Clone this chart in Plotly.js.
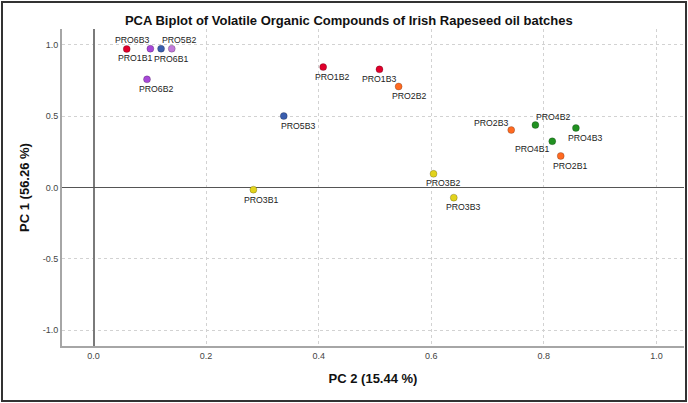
<!DOCTYPE html>
<html>
<head>
<meta charset="utf-8">
<script src="https://cdn.plot.ly/plotly-3.0.1.min.js"></script>
<style>
  body { margin: 0; background: #fff; }
  #chart { width: 688px; height: 403px; }
  #frame { position: absolute; left: 1px; top: 1px; width: 682px; height: 397px; border: 2px solid #333; pointer-events: none; }
</style>
</head>
<body>
<div id="chart"></div>
<div id="frame"></div>
<script>
// sample labels and PCA scores
const samples = ['PRO1B1', 'PRO6B3', 'PRO5B2', 'PRO6B1', 'PRO6B2', 'PRO1B2', 'PRO5B3', 'PRO1B3',
  'PRO2B2', 'PRO2B3', 'PRO4B2', 'PRO4B3', 'PRO4B1', 'PRO2B1', 'PRO3B2', 'PRO3B3', 'PRO3B1'];
const pc2 = [0.059, 0.101, 0.120, 0.139, 0.095, 0.408, 0.338, 0.508,
  0.542, 0.742, 0.785, 0.857, 0.815, 0.830, 0.604, 0.640, 0.284];
const pc1 = [0.971, 0.973, 0.973, 0.973, 0.758, 0.844, 0.501, 0.828,
  0.708, 0.403, 0.438, 0.417, 0.324, 0.221, 0.096, -0.071, -0.015];

const colors = {
  PRO1: '#e0002b', PRO2: '#ff6a21', PRO3: '#e2d31c',
  PRO4: '#219121', PRO5: '#3a5eae', PRO6: '#a748d8'
};
const special = { PRO6B1: '#c27ad9' };
// label offsets in px (dx right, dy down)
const labelShift = {
  PRO1B1: [8, 9], PRO6B3: [-18, -9], PRO5B2: [18, -9], PRO6B1: [-1, 10],
  PRO6B2: [9, 10], PRO1B2: [9, 10], PRO5B3: [14, 10], PRO1B3: [0, 10],
  PRO2B2: [10, 10], PRO2B3: [-20, -7], PRO4B2: [18, -8], PRO4B3: [9, 10],
  PRO4B1: [-20, 8], PRO2B1: [9, 10], PRO3B2: [9, 9], PRO3B3: [9, 9], PRO3B1: [8, 10]
};

const pointColors = samples.map(s => special[s] || colors[s.slice(0, 4)]);

const trace = {
  x: pc2, y: pc1, text: samples,
  mode: 'markers', type: 'scatter',
  marker: { size: 7, color: pointColors, line: { width: 0.6, color: 'rgba(0,0,0,0.35)' } },
  hoverinfo: 'text', showlegend: false
};

const annotations = samples.map((s, i) => ({
  x: pc2[i], y: pc1[i], text: s, showarrow: false,
  xshift: labelShift[s][0], yshift: -labelShift[s][1],
  font: { family: 'Arial, Liberation Sans, sans-serif', size: 8.7, color: '#222' }
}));

const axisFont = { family: 'Arial, Liberation Sans, sans-serif', size: 9, color: '#444' };

const layout = {
  width: 688, height: 403,
  margin: { l: 62, r: 4, t: 29, b: 57 },
  paper_bgcolor: '#fff', plot_bgcolor: '#fff',
  font: { family: 'Arial, Liberation Sans, sans-serif' },
  title: {
    text: '<b>PCA Biplot of Volatile Organic Compounds of Irish Rapeseed oil batches</b>',
    font: { size: 13, color: '#111' },
    xref: 'container', x: 0.507, xanchor: 'center',
    yref: 'container', y: 0.95, yanchor: 'middle'
  },
  xaxis: {
    range: [-0.056, 1.049], tickvals: [0, 0.2, 0.4, 0.6, 0.8, 1.0],
    ticktext: ['0.0', '0.2', '0.4', '0.6', '0.8', '1.0'],
    tickfont: axisFont, ticks: '', ticklen: 0,
    showgrid: true, gridcolor: '#d2d2d2', griddash: 'dot', gridwidth: 1,
    zeroline: true, zerolinecolor: '#7a7a7a', zerolinewidth: 2,
    showline: true, linecolor: '#a6a6a6', linewidth: 2, mirror: false,
    title: { text: '<b>PC 2 (15.44 %)</b>', font: { size: 13, color: '#111' }, standoff: 14 }
  },
  yaxis: {
    range: [-1.111, 1.111], tickvals: [-1, -0.5, 0, 0.5, 1],
    ticktext: ['-1.0', '-0.5', '0.0', '0.5', '1.0'],
    tickfont: axisFont, ticks: '', ticklen: 0,
    showgrid: true, gridcolor: '#d2d2d2', griddash: 'dot', gridwidth: 1,
    zeroline: true, zerolinecolor: '#555', zerolinewidth: 1,
    showline: true, linecolor: '#a6a6a6', linewidth: 2, mirror: false,
    title: { text: '<b>PC 1 (56.26 %)</b>', font: { size: 13, color: '#111' }, standoff: 10 }
  },
  annotations: annotations
};

Plotly.newPlot('chart', [trace], layout, { displayModeBar: false, staticPlot: true });
</script>
</body>
</html>
